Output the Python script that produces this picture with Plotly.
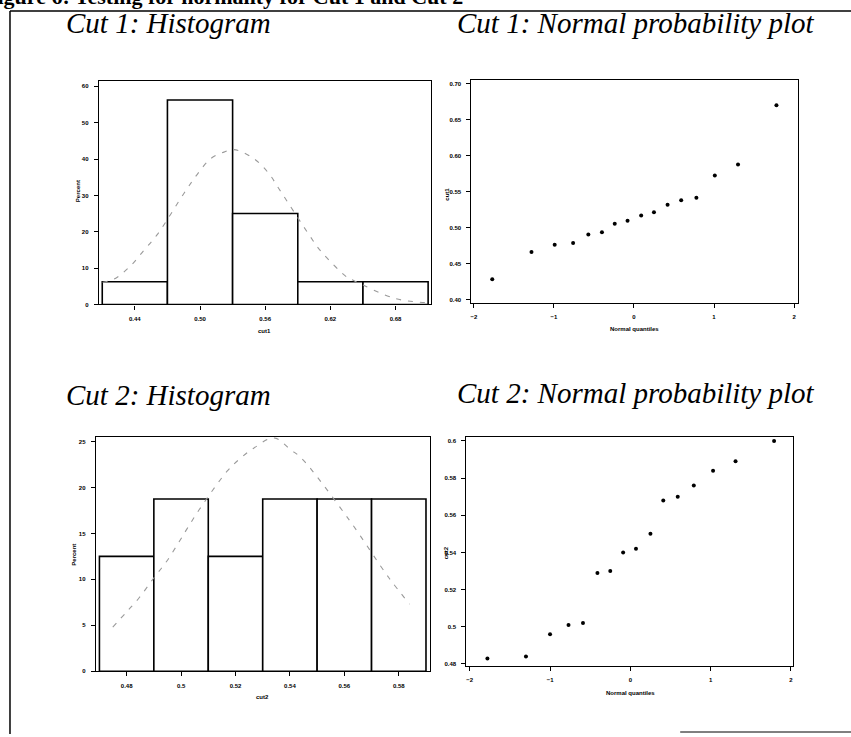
import plotly.graph_objects as go

W, H = 851, 737

# ---------------- data ----------------
# Cut 1 histogram (percent of observations per bin)
cut1_bin_centers = [0.44, 0.50, 0.56, 0.62, 0.68]
cut1_bin_percent = [6.25, 56.25, 25.0, 6.25, 6.25]
cut1_bin_width = 0.06
cut1_hist_yticks = [0, 10, 20, 30, 40, 50, 60]
# fitted normal curve
cut1_curve_x = [0.4103, 0.4210, 0.4363, 0.4486, 0.4608, 0.4853, 0.4975, 0.5098, 0.5220,
                0.5312, 0.5496, 0.5634, 0.5725, 0.6010, 0.6108, 0.6353, 0.6414, 0.6800, 0.7100]
cut1_curve_y = [6.1, 7.0, 10.7, 15.0, 19.3, 30.6, 35.8, 40.1, 41.9,
                42.6, 40.1, 36.0, 31.9, 18.9, 14.8, 7.5, 6.6, 1.6, 0.5]

# Cut 1 normal probability plot
cut1_normal_scores = [-1.77, -1.28, -0.99, -0.76, -0.57, -0.40, -0.24, -0.08,
                      0.09, 0.25, 0.42, 0.59, 0.78, 1.01, 1.30, 1.78]
cut1_values = [0.428, 0.466, 0.476, 0.4785, 0.4905, 0.4935, 0.5055, 0.5095,
               0.517, 0.5215, 0.532, 0.538, 0.5415, 0.5725, 0.588, 0.6705]
cut1_prob_yticks = [0.40, 0.45, 0.50, 0.55, 0.60, 0.65, 0.70]

# Cut 2 histogram
cut2_bin_centers = [0.48, 0.50, 0.52, 0.54, 0.56, 0.58]
cut2_bin_percent = [12.5, 18.75, 12.5, 18.75, 18.75, 18.75]
cut2_bin_width = 0.02
cut2_hist_yticks = [0, 5, 10, 15, 20, 25]
cut2_curve_x = [0.4749, 0.4798, 0.4846, 0.4901, 0.4948, 0.4993, 0.5024, 0.5067, 0.5170,
                0.5219, 0.5268, 0.5342, 0.5403, 0.5442, 0.5617, 0.5763, 0.5840]
cut2_curve_y = [4.8, 6.4, 8.0, 10.2, 12.0, 14.1, 15.6, 17.6, 21.8,
                23.2, 24.3, 25.4, 24.1, 23.2, 16.5, 10.2, 7.3]

# Cut 2 normal probability plot
cut2_normal_scores = [-1.78, -1.30, -1.00, -0.77, -0.59, -0.41, -0.25, -0.09,
                      0.07, 0.25, 0.41, 0.59, 0.79, 1.03, 1.31, 1.79]
cut2_values = [0.483, 0.484, 0.496, 0.501, 0.502, 0.529, 0.530, 0.540,
               0.542, 0.550, 0.568, 0.570, 0.576, 0.584, 0.589, 0.600]
cut2_prob_yticks = [0.48, 0.50, 0.52, 0.54, 0.56, 0.58, 0.60]

prob_xticks = [-2, -1, 0, 1, 2]

titles = ["Cut 1: Histogram", "Cut 1: Normal probability plot",
          "Cut 2: Histogram", "Cut 2: Normal probability plot"]
caption = "Figure 6: Testing for normality for Cut 1 and Cut 2"

# ---------------- helpers ----------------
def xd(a, b):
    return [a / W, b / W]

def yd(top, bottom):
    return [1 - bottom / H, 1 - top / H]

def px(x):
    return x / W

def py(y):
    return 1 - y / H

tickfont = dict(family="Liberation Sans", size=6, color="black", weight="bold")

def axis_common():
    return dict(showline=True, linecolor="black", linewidth=1.3, mirror=True,
                ticks="outside", ticklen=4, tickwidth=1, tickcolor="black",
                showgrid=False, zeroline=False, tickfont=tickfont,
                ticklabelstandoff=4)

curve_line = dict(color="#9a9a9a", width=1.1, dash="5px,7px", shape="spline")

fig = go.Figure()

# Panel 1: Cut 1 histogram
fig.add_trace(go.Bar(x=cut1_bin_centers, y=cut1_bin_percent, width=cut1_bin_width,
                     marker=dict(color="white", line=dict(color="black", width=1.6)),
                     xaxis="x", yaxis="y", showlegend=False))
fig.add_trace(go.Scatter(x=cut1_curve_x, y=cut1_curve_y, mode="lines", line=curve_line,
                         xaxis="x", yaxis="y", showlegend=False))

# Panel 2: Cut 1 normal probability plot
fig.add_trace(go.Scatter(x=cut1_normal_scores, y=cut1_values, mode="markers",
                         marker=dict(color="black", size=4),
                         xaxis="x2", yaxis="y2", showlegend=False))

# Panel 3: Cut 2 histogram
fig.add_trace(go.Bar(x=cut2_bin_centers, y=cut2_bin_percent, width=cut2_bin_width,
                     marker=dict(color="white", line=dict(color="black", width=1.6)),
                     xaxis="x3", yaxis="y3", showlegend=False))
fig.add_trace(go.Scatter(x=cut2_curve_x, y=cut2_curve_y, mode="lines", line=curve_line,
                         xaxis="x3", yaxis="y3", showlegend=False))

# Panel 4: Cut 2 normal probability plot
fig.add_trace(go.Scatter(x=cut2_normal_scores, y=cut2_values, mode="markers",
                         marker=dict(color="black", size=4),
                         xaxis="x4", yaxis="y4", showlegend=False))

layout = dict(
    width=W, height=H, margin=dict(l=0, r=0, t=0, b=0),
    paper_bgcolor="white", plot_bgcolor="white", showlegend=False,
    xaxis=dict(domain=xd(98, 431), range=[0.4069, 0.7131], anchor="y",
               tickvals=cut1_bin_centers, ticktext=[f"{v:.2f}" for v in cut1_bin_centers],
               **axis_common()),
    yaxis=dict(domain=yd(81, 305.7), range=[0, 61.56], anchor="x",
               tickvals=cut1_hist_yticks, **axis_common()),
    xaxis2=dict(domain=xd(471, 798), range=[-2.03, 2.05], anchor="y2",
                tickvals=prob_xticks, **axis_common()),
    yaxis2=dict(domain=yd(80, 304), range=[0.3954, 0.706], anchor="x2",
                tickvals=cut1_prob_yticks, ticktext=[f"{v:.2f}" for v in cut1_prob_yticks],
                **axis_common()),
    xaxis3=dict(domain=xd(95, 429.3), range=[0.4687, 0.5914], anchor="y3",
                tickvals=cut2_bin_centers, ticktext=[f"{v:g}" for v in cut2_bin_centers],
                **axis_common()),
    yaxis3=dict(domain=yd(439, 674), range=[0, 25.47], anchor="x3",
                tickvals=cut2_hist_yticks, **axis_common()),
    xaxis4=dict(domain=xd(466, 793.3), range=[-2.041, 2.03], anchor="y4",
                tickvals=prob_xticks, **axis_common()),
    yaxis4=dict(domain=yd(438.3, 668.3), range=[0.47914, 0.60236], anchor="x4",
                tickvals=cut2_prob_yticks, ticktext=[f"{v:g}" for v in cut2_prob_yticks],
                **axis_common()),
)
fig.update_layout(**layout)

ann = []
title_font = dict(family="Liberation Serif", size=29, color="black", style="italic")
for txt, x, y in [(titles[0], 63, 23), (titles[1], 455, 23),
                  (titles[2], 63, 397), (titles[3], 455, 395)]:
    ann.append(dict(text=txt, x=px(x), y=py(y), xref="paper", yref="paper",
                    xanchor="left", yanchor="middle", showarrow=False, font=title_font))

small = dict(family="Liberation Sans", size=6, color="black", weight="bold")
for txt, x, y, ang in [("cut1", 264, 332, 0), ("Percent", 77, 192, -90),
                       ("Normal quantiles", 634, 330, 0), ("cut1", 447, 195, -90),
                       ("cut2", 262, 700, 0), ("Percent", 73, 557, -90),
                       ("Normal quantiles", 630, 696, 0), ("cut2", 445, 555, -90)]:
    ann.append(dict(text=txt, x=px(x), y=py(y), xref="paper", yref="paper",
                    xanchor="center", yanchor="middle", showarrow=False,
                    textangle=ang, font=small))

# caption at the very top, cut off by the page edge as in the scan
ann.append(dict(text=caption, x=px(-19), y=py(11), xref="paper", yref="paper",
                xanchor="left", yanchor="bottom", showarrow=False,
                font=dict(family="Liberation Serif", size=22, color="black", weight="bold")))
fig.update_layout(annotations=ann)

# page frame lines
frame = dict(type="line", xref="paper", yref="paper", line=dict(color="black", width=1.5))
fig.update_layout(shapes=[
    dict(frame, x0=px(9), x1=px(9), y0=py(11), y1=py(737)),
    dict(frame, x0=px(9), x1=px(851), y0=py(11), y1=py(11)),
    dict(frame, x0=px(680), x1=px(851), y0=py(735), y1=py(735), line=dict(color="black", width=1)),
])

fig.write_html("out.html")
